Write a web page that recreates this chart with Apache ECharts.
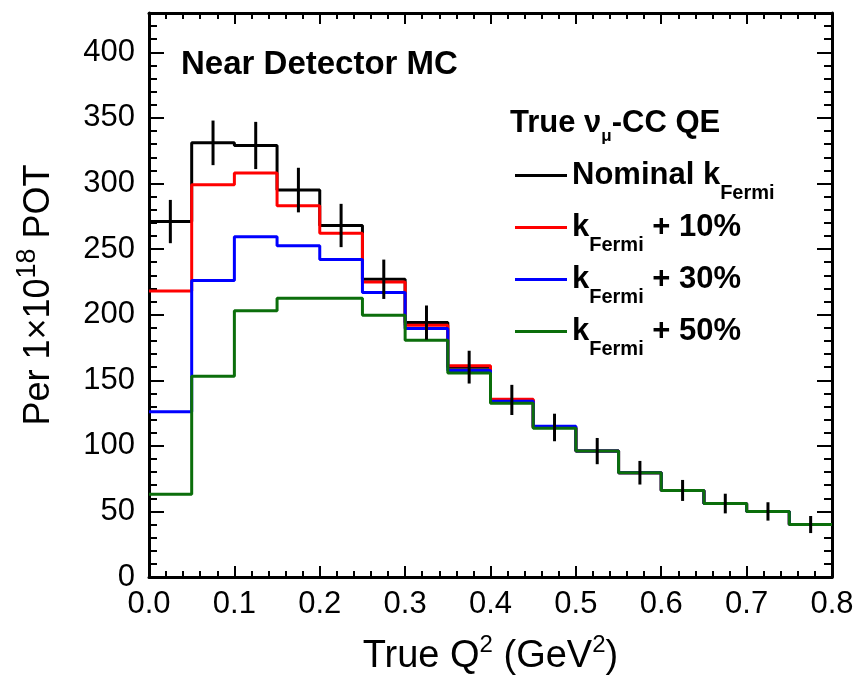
<!DOCTYPE html>
<html><head><meta charset="utf-8">
<script src="https://cdn.jsdelivr.net/npm/echarts@6/dist/echarts.min.js"></script>
<style>html,body{margin:0;padding:0;background:#fff}#c{width:858px;height:679px}</style>
</head><body><div id="c"></div>
<script>
// ---- data ----
const binLow = [0.00,0.05,0.10,0.15,0.20,0.25,0.30,0.35,0.40,0.45,0.50,0.55,0.60,0.65,0.70,0.75];
const binWidth = 0.05;
const nominal    = [271, 331, 329, 295, 268, 227, 194, 160, 135, 114, 96, 79.5, 66, 56, 50, 40];
const nominalErr = [16.5, 17, 18, 17, 16.5, 15, 13, 12.5, 11.5, 10.5, 10, 9, 8, 7.5, 7, 6.5];
const plus10     = [218, 299, 308, 283, 262, 225, 192, 161, 135.5, 114, 96, 79.5, 66, 56, 50, 40];
const plus30     = [126, 226, 259.5, 252.5, 242, 217, 189.5, 157.5, 134, 115, 96, 79.5, 66, 56, 50, 40];
const plus50     = [63, 153, 203, 212.5, 212.5, 199.5, 180.5, 155.5, 132.5, 113.5, 96, 79.5, 66, 56, 50, 40];
const xTickLabels = ['0.0','0.1','0.2','0.3','0.4','0.5','0.6','0.7','0.8'];
const yTickLabels = ['0','50','100','150','200','250','300','350','400'];
const seriesNames = ['Nominal', 'plus10', 'plus30', 'plus50'];

const FONT = "'Liberation Sans', Arial, Helvetica, sans-serif";
const BLACK = '#000000', RED = '#ff0000', BLUE = '#0000ff', GREEN = '#0b6e0b';

function steps(vals){
  const pts = [];
  vals.forEach((v,i)=>{ pts.push([binLow[i], v]); pts.push([binLow[i]+binWidth, v]); });
  return pts;
}
function stepSeries(name, vals, color, z){
  return {name, type:'line', data: steps(vals), symbol:'none', showSymbol:false,
    xAxisIndex:0, yAxisIndex:0, z,
    lineStyle:{color, width:3}, itemStyle:{color}, animation:false};
}
const tickStyle = {color:BLACK, width:2};
function xAx(pos, labels){
  return {type:'value', min:0, max:0.8, interval:0.1, position:pos,
    axisLine:{show:true, onZero:false, lineStyle:{color:BLACK, width:3}},
    axisTick:{show:true, inside:true, length:11, lineStyle:tickStyle},
    minorTick:{show:true, splitNumber:5, length:6, lineStyle:tickStyle},
    splitLine:{show:false},
    axisLabel:{show:labels, margin:12, fontSize:31, color:BLACK, fontFamily:FONT,
      formatter: v => xTickLabels[Math.round(v/0.1)] || ''},
    ...(labels ? {
      name:'{a|True Q}{s|2}{a| (GeV}{s|2}{a|)}', nameLocation:'middle', nameGap:56,
      nameTextStyle:{rich:{
        a:{fontSize:38, fontFamily:FONT, color:BLACK, verticalAlign:'bottom'},
        s:{fontSize:24, fontFamily:FONT, color:BLACK, verticalAlign:'bottom', padding:[0,0,19,0]}
      }}
    } : {})
  };
}
function yAx(pos, major, labels){
  return {type:'value', min:0, max:430, interval: major ? 50 : 10, position:pos,
    axisLine:{show:major, onZero:false, lineStyle:{color:BLACK, width:3}},
    axisTick:{show:true, inside:true, length: major ? 15 : 8, lineStyle:tickStyle},
    splitLine:{show:false},
    axisLabel:{show:labels, margin:14, fontSize:31, color:BLACK, fontFamily:FONT,
      formatter: v => (v % 50 === 0 ? (yTickLabels[v/50] || '') : '')},
    ...(labels ? {
      name:'{a|Per 1×10}{s|18}{a| POT}', nameLocation:'middle', nameGap:92, nameRotate:90,
      nameTextStyle:{rich:{
        a:{fontSize:36, fontFamily:FONT, color:BLACK, verticalAlign:'bottom'},
        s:{fontSize:27, fontFamily:FONT, color:BLACK, verticalAlign:'bottom', padding:[0,0,16,0]}
      }}
    } : {})
  };
}
const legendRich = {
  b:{fontSize:31, fontWeight:'bold', fontFamily:FONT, color:BLACK, verticalAlign:'bottom', padding:[12,0,12,0]},
  s:{fontSize:20, fontWeight:'bold', fontFamily:FONT, color:BLACK, verticalAlign:'bottom'}
};
const legendText = {
  Nominal:'{b|Nominal k}{s|Fermi}',
  plus10:'{b|k}{s|Fermi}{b| + 10%}',
  plus30:'{b|k}{s|Fermi}{b| + 30%}',
  plus50:'{b|k}{s|Fermi}{b| + 50%}'
};

const chart = echarts.init(document.getElementById('c'), null, {renderer:'canvas'});
chart.setOption({
  animation:false,
  backgroundColor:'#ffffff',
  grid:{left:149, right:26, top:13, bottom:102, containLabel:false, outerBoundsMode:'none'},
  title:[
    {text:'Near Detector MC', left:176, top:43,
     textStyle:{fontSize:33, fontWeight:'bold', color:BLACK, fontFamily:FONT}},
    {text:'{b|True }{n|ν}{s|μ}{b|-CC QE}', left:505, top:103,
     textStyle:{rich:{
       b:{fontSize:31, fontWeight:'bold', fontFamily:FONT, color:BLACK, verticalAlign:'bottom', padding:[0,0,6,0]},
       n:{fontSize:31, fontFamily:FONT, color:BLACK, verticalAlign:'bottom', padding:[0,0,6,0]},
       s:{fontSize:17, fontFamily:FONT, color:BLACK, verticalAlign:'bottom'}
     }}}
  ],
  legend:{
    data: seriesNames, orient:'vertical', left:510, top:155, itemGap:9,
    itemWidth:52, itemHeight:3, icon:'rect',
    formatter: n => legendText[n],
    textStyle:{rich: legendRich}
  },
  xAxis:[xAx('bottom', true), xAx('top', false)],
  yAxis:[yAx('left', true, true), yAx('left', false, false), yAx('right', true, false), yAx('right', false, false)],
  series:[
    stepSeries('Nominal', nominal, BLACK, 2),
    stepSeries('plus10', plus10, RED, 3),
    stepSeries('plus30', plus30, BLUE, 4),
    stepSeries('plus50', plus50, GREEN, 5),
    {type:'custom', name:'errors', xAxisIndex:0, yAxisIndex:0, z:10,
     data: binLow.map((b,i)=>[b+binWidth/2, nominal[i], nominalErr[i]]),
     encode:{x:0, y:1},
     renderItem:(params, api)=>{
       const x = api.value(0), v = api.value(1), e = api.value(2);
       const p1 = api.coord([x, v-e]), p2 = api.coord([x, v+e]);
       return {type:'line', shape:{x1:p1[0], y1:p1[1], x2:p2[0], y2:p2[1]},
               style:{stroke:BLACK, lineWidth:3}};
     }, animation:false}
  ]
});
</script></body></html>
